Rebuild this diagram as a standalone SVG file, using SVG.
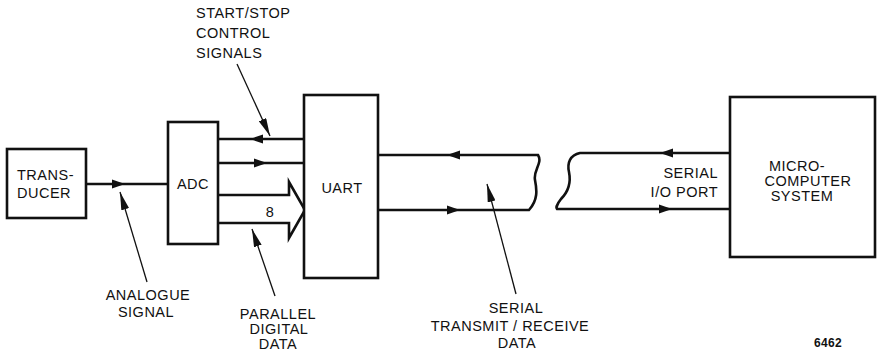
<svg xmlns="http://www.w3.org/2000/svg" width="878" height="352" viewBox="0 0 878 352">
<style>
.box{fill:#fff;stroke:#111;stroke-width:2.6}
.ln{fill:none;stroke:#111;stroke-width:2.6;stroke-linejoin:miter}
.ptr{fill:none;stroke:#111;stroke-width:1.3}
.ah{fill:#111}
text{font-family:"Liberation Sans",Arial,sans-serif;font-size:14.5px;letter-spacing:0.5px;fill:#111}
.c{text-anchor:middle}
.r{text-anchor:end}
.small{font-size:12px;font-weight:bold;letter-spacing:0.3px}
</style>
<defs>
<path id="ah" d="M0,0 L-13,-4.5 L-13,4.5 Z" class="ah"/>
<marker id="pa" viewBox="0 0 18 8" refX="18" refY="4" markerWidth="18" markerHeight="8" markerUnits="userSpaceOnUse" orient="auto">
<path d="M0,0 L18,4 L0,8 Z" fill="#111"/>
</marker>
</defs>
<g id="connectors">
<line class="ln" x1="86" y1="184" x2="168" y2="184"/>
<use href="#ah" transform="translate(125,184)"/>
<line class="ln" x1="218" y1="139" x2="304" y2="139"/>
<use href="#ah" transform="translate(250,139) rotate(180)"/>
<line class="ln" x1="218" y1="163" x2="304" y2="163"/>
<use href="#ah" transform="translate(267,163)"/>
<path class="ln" d="M218,195 L289,195 L289,182 L305,210 L289,238 L289,223 L218,223"/>
<text x="270" y="217" class="c">8</text>
<path class="ln" d="M378,155 L538,155 C543,163 533,170 535,180 C537,190 538,200 529,210 L378,210"/>
<use href="#ah" transform="translate(447,155) rotate(180)"/>
<use href="#ah" transform="translate(460,210)"/>
<path class="ln" d="M730,153 L580,153 C570,155 567,163 569,172 C571,182 568,192 561,199 C557,204 556,208 557,209 L730,209"/>
<use href="#ah" transform="translate(660,153) rotate(180)"/>
<use href="#ah" transform="translate(672,209)"/>
<line class="ptr" x1="147" y1="282" x2="120" y2="192" marker-end="url(#pa)"/>
<line class="ptr" x1="275" y1="296" x2="252" y2="229" marker-end="url(#pa)"/>
<line class="ptr" x1="237" y1="64" x2="270" y2="136" marker-end="url(#pa)"/>
<line class="ptr" x1="516" y1="294" x2="487" y2="184" marker-end="url(#pa)"/>
</g>
<g id="transducer">
<rect class="box" x="7" y="149" width="79" height="69"/>
<text x="17" y="180">TRANS-</text>
<text x="17" y="198">DUCER</text>
</g>
<g id="adc">
<rect class="box" x="168" y="122" width="50" height="122"/>
<text x="193" y="189" class="c">ADC</text>
</g>
<g id="uart">
<rect class="box" x="304" y="95" width="74" height="183"/>
<text x="342" y="193" class="c">UART</text>
</g>
<g id="micro">
<rect class="box" x="730" y="97" width="145" height="160"/>
<text x="797" y="171" class="c">MICRO-</text>
<text x="808" y="186" class="c">COMPUTER</text>
<text x="802" y="201" class="c">SYSTEM</text>
</g>
<g id="labels">
<text x="718" y="178" class="r">SERIAL</text>
<text x="718" y="197" class="r">I/O PORT</text>
<text x="196" y="18">START/STOP</text>
<text x="196" y="38">CONTROL</text>
<text x="196" y="58">SIGNALS</text>
<text x="148" y="300" class="c">ANALOGUE</text>
<text x="146" y="317" class="c">SIGNAL</text>
<text x="278" y="319" class="c">PARALLEL</text>
<text x="279" y="334" class="c">DIGITAL</text>
<text x="278" y="349" class="c">DATA</text>
<text x="516" y="313" class="c">SERIAL</text>
<text x="510" y="331" class="c">TRANSMIT / RECEIVE</text>
<text x="517" y="348" class="c">DATA</text>
<text x="828" y="347" class="c small">6462</text>
</g>
</svg>
